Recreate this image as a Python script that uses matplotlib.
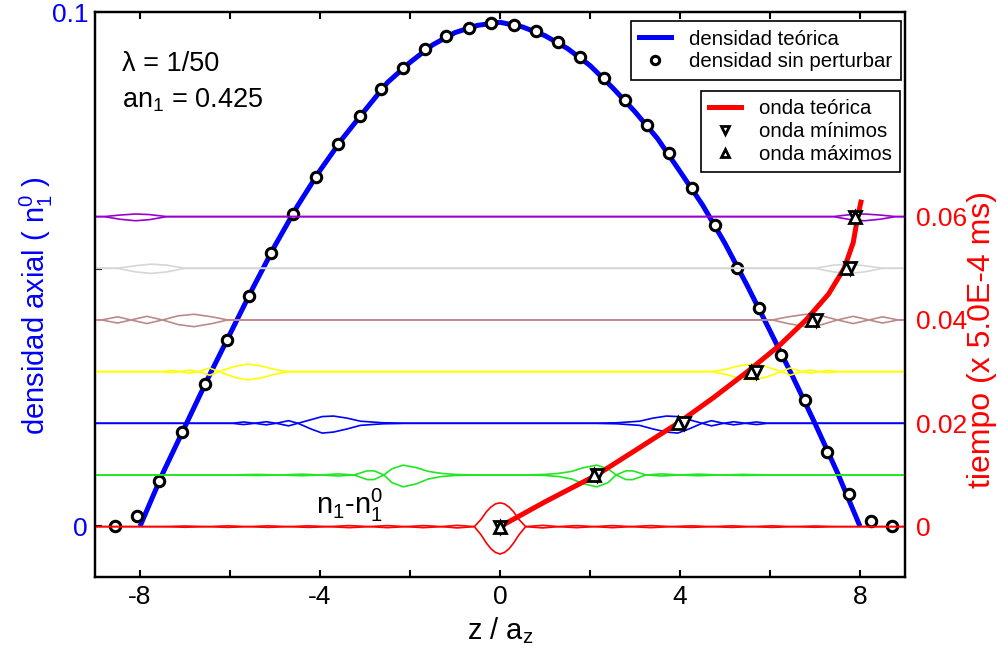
import matplotlib
matplotlib.use('Agg')
import matplotlib.pyplot as plt
import numpy as np
from matplotlib.lines import Line2D
from matplotlib.ticker import FixedLocator

plt.rcParams['font.family'] = ['Liberation Sans', 'DejaVu Sans']
plt.rcParams['mathtext.fontset'] = 'custom'
plt.rcParams['mathtext.rm'] = 'Liberation Sans'
plt.rcParams['mathtext.it'] = 'Liberation Sans'
plt.rcParams['mathtext.bf'] = 'Liberation Sans:bold'

# ---------------- data ----------------
# theoretical density (blue line)
dens_z = [-8, -7.5, -7, -6.5, -6, -5.5, -5, -4.5, -4, -3.5, -3, -2.5, -2, -1.5, -1, -0.5,
          0, 0.5, 1, 1.5, 2, 2.5, 3, 3.5, 4, 4.5, 5, 5.5, 6, 6.5, 7, 7.5, 8]
dens_n = [0, 0.0102, 0.0194, 0.0286, 0.0374, 0.0462, 0.0546, 0.0623, 0.0692, 0.0754, 0.0809,
          0.0863, 0.0902, 0.0936, 0.0960, 0.0974, 0.0980, 0.0971, 0.0954, 0.0929, 0.0896,
          0.0853, 0.0806, 0.0754, 0.0690, 0.0625, 0.0550, 0.0467, 0.0380, 0.0292, 0.0200,
          0.0104, 0]

# unperturbed density (circles)
circ_z = [-8.55, -8.06, -7.57, -7.06, -6.55, -6.06, -5.58, -5.09, -4.60, -4.09, -3.60, -3.11,
          -2.65, -2.16, -1.67, -1.19, -0.70, -0.21, 0.30, 0.79, 1.28, 1.77, 2.30, 2.78, 3.27,
          3.76, 4.27, 4.78, 5.27, 5.76, 6.25, 6.78, 7.26, 7.75, 8.24, 8.72]
circ_n = [0.0, 0.0020, 0.0089, 0.0183, 0.0277, 0.0363, 0.0448, 0.0532, 0.0608, 0.0680, 0.0743,
          0.0797, 0.0850, 0.0891, 0.0928, 0.0953, 0.0969, 0.0979, 0.0975, 0.0963, 0.0942,
          0.0912, 0.0871, 0.0828, 0.0780, 0.0725, 0.0657, 0.0585, 0.0503, 0.0425, 0.0333,
          0.0246, 0.0144, 0.0062, 0.0010, 0.0]

# theoretical wave front (red line)
wave_z = [0, 1.0, 2.15, 3.05, 3.95, 4.75, 5.5, 6.2, 6.8, 7.3, 7.65, 7.85, 7.95, 8.02]
wave_t = [0, 0.0048, 0.0100, 0.0150, 0.0200, 0.0250, 0.0300, 0.0350, 0.0400, 0.0450,
          0.0500, 0.0550, 0.0600, 0.0628]

# wave minima / maxima markers
slice_t = [0.0, 0.01, 0.02, 0.03, 0.04, 0.05, 0.06]
max_z = [0.0, 2.10, 3.95, 5.58, 6.93, 7.70, 7.90]
min_z = [0.0, 2.16, 4.08, 5.70, 7.02, 7.78, 7.90]

# perturbation profiles n1 - n1^0 (units of 1e-3), positive-z side, mirrored to negative z
slice_colors = ['#ff0000', '#22e622', '#0000ff', '#ffff00', '#bc8a8a', '#d6d6d6', '#9900cc']
prof_z = [
    [0, 0.1, 0.2, 0.3, 0.42, 0.57, 0.95, 1.3, 1.7, 2.1, 2.5, 2.9, 3.35, 3.8, 4.25, 4.7, 5.15,
     5.6, 6.05, 6.5, 7.0, 7.5, 8.1, 9.0],
    [0, 0.5, 1.0, 1.3, 1.6, 1.85, 2.15, 2.4, 2.58, 2.8, 2.95, 3.24, 3.6, 4.0, 4.4, 4.9, 5.4,
     6.0, 9.0],
    [0, 1.0, 2.0, 2.6, 3.1, 3.4, 3.7, 3.95, 4.2, 4.49, 4.7, 4.97, 5.2, 5.45, 5.7, 5.95, 6.3, 9.0],
    [0, 3.0, 4.0, 4.7, 5.0, 5.3, 5.6, 5.9, 6.25, 6.45, 6.7, 6.9, 7.1, 7.3, 7.5, 9.0],
    [0, 5.0, 6.05, 6.4, 6.8, 7.15, 7.5, 7.85, 8.2, 8.5, 8.85, 9.0],
    [0, 6.5, 7.0, 7.4, 7.75, 8.1, 8.5, 9.0],
    [0, 7.0, 7.4, 7.8, 8.1, 8.45, 8.8, 9.0],
]
prof_a = [
    [4.6, 4.4, 3.8, 2.9, 1.4, 0, -0.25, 0, 0.2, 0, -0.2, 0, 0.2, 0, -0.15, 0, 0.15, 0, -0.15,
     0, 0.12, 0, 0, 0],
    [0, 0, 0.1, 0.3, 0.7, 1.4, 1.9, 1.2, 0, -0.9, -0.9, 0, 0.2, 0, -0.15, 0, 0.1, 0, 0],
    [0, 0, 0, 0.1, 0.4, 1.0, 1.4, 1.3, 0.7, 0, -0.5, 0, 0.3, 0, -0.25, 0, 0, 0],
    [0, 0, 0, 0, 0.4, 1.1, 1.45, 1.0, 0, -0.7, 0, 0.3, 0, -0.2, 0, 0],
    [0, 0, 0, 0.6, 1.1, 0.8, 0, -0.7, 0, 0.6, 0, 0],
    [0, 0, 0, 0.6, 0.8, 0.5, 0, 0],
    [0, 0, 0, 0.4, 0.5, 0.3, 0, 0],
]
prof_b = [
    [-5.3, -5.0, -4.3, -3.2, -1.6, 0, 0.25, 0, -0.2, 0, 0.2, 0, -0.2, 0, 0.15, 0, -0.15, 0,
     0.15, 0, -0.12, 0, 0, 0],
    [0, 0, -0.1, -0.3, -0.8, -1.7, -2.3, -1.5, 0, 0.8, 0.8, 0, -0.2, 0, 0.15, 0, -0.1, 0, 0],
    [0, 0, 0, -0.1, -0.4, -1.1, -1.7, -1.9, -1.1, 0, 0.5, 0, -0.3, 0, 0.25, 0, 0, 0],
    [0, 0, 0, 0, -0.5, -1.2, -1.6, -1.1, 0, 0.7, 0, -0.3, 0, 0.2, 0, 0],
    [0, 0, 0, -0.7, -1.3, -0.9, 0, 0.7, 0, -0.6, 0, 0],
    [0, 0, 0, -0.7, -1.0, -0.7, 0, 0],
    [0, 0, 0, -0.6, -0.8, -0.5, 0, 0],
]
prof_unit = 1e-3

x_major = [-8, -4, 0, 4, 8]
x_minor = [-6, -2, 2, 6]
yl_ticks = [0, 0.1]
yr_ticks = [0, 0.02, 0.04, 0.06]

# ---------------- figure ----------------
W, H = 997, 652
fig = plt.figure(figsize=(W / 100, H / 100), dpi=100)
ax1 = fig.add_axes([95 / W, 1 - 577 / H, 810 / W, 565 / H])
ax2 = ax1.twinx()

ax1.set_xlim(-9, 9)
ax1.set_ylim(-0.00985, 0.1)
ax2.set_ylim(-0.00975, 0.0996)

# density
ax1.plot(dens_z, dens_n, color='#0000ff', lw=3.6, solid_capstyle='butt', zorder=2)
ax1.plot(circ_z, circ_n, ls='none', marker='o', ms=7.5, mfc='white', mec='black', mew=2.2,
         zorder=3)

# perturbation slices
for t, col, zz, aa, bb in zip(slice_t, slice_colors, prof_z, prof_a, prof_b):
    zz = np.asarray(zz, float)
    full_z = np.concatenate([-zz[::-1], zz[1:]])
    for vals in (aa, bb):
        vv = np.asarray(vals, float)
        full_v = np.concatenate([vv[::-1], vv[1:]])
        ax2.plot(full_z, t + full_v * prof_unit, color=col, lw=1.2, zorder=2)

# theoretical wave
ax2.plot(wave_z, wave_t, color='#ff0000', lw=3.6, zorder=4)
ax2.plot(min_z, slice_t, ls='none', marker='v', ms=8, mfc='white', mec='black', mew=2,
         zorder=5)
ax2.plot(max_z, slice_t, ls='none', marker='^', ms=8, mfc='white', mec='black', mew=2,
         zorder=5)

# ticks
fs_tick = 19
ax1.xaxis.set_major_locator(FixedLocator(x_major))
ax1.xaxis.set_minor_locator(FixedLocator(x_minor))
ax1.set_xticklabels([f'{v:d}' for v in x_major])
ax1.tick_params(axis='x', which='both', direction='in', top=True, length=5, width=1.5,
                labelsize=fs_tick, pad=6)
ax1.yaxis.set_major_locator(FixedLocator(yl_ticks))
ax1.yaxis.set_minor_locator(FixedLocator([0.05]))
ax1.set_yticklabels(['0', '0.1'])
ax1.tick_params(axis='y', which='both', direction='in', length=5, width=1.5,
                labelsize=fs_tick, labelcolor='#0000ff', pad=5)
ax2.yaxis.set_major_locator(FixedLocator(yr_ticks))
ax2.set_yticklabels(['0', '0.02', '0.04', '0.06'])
ax2.tick_params(axis='y', which='major', length=0, labelsize=fs_tick, labelcolor='#ff0000',
                pad=8)
for ax in (ax1, ax2):
    for s in ax.spines.values():
        s.set_linewidth(1.6)

ax1.set_xlabel('z / a$_z$', fontsize=21)
ax1.xaxis.set_label_coords(0.5, -0.068)
ax1.set_ylabel('densidad axial ( n$_1^0$ )', fontsize=21, color='#0000ff')
ax1.yaxis.set_label_coords(-0.0494, 0.48)
ax2.set_ylabel('tiempo (x 5.0E-4 ms)', fontsize=23, color='#ff0000', rotation=90)
ax2.yaxis.set_label_coords(1.077, 0.42)

# annotations
ax1.text(-8.4, 0.0898, 'λ = 1/50', fontsize=19.5, va='center', ha='left')
ax1.text(-8.4, 0.0828, 'an$_1$ = 0.425', fontsize=19.5, va='center', ha='left')
ax1.text(-3.35, 0.0040, 'n$_1$-n$_1^0$', fontsize=21, va='center', ha='center')

# legends
h1 = [Line2D([], [], color='#0000ff', lw=3.6),
      Line2D([], [], ls='none', marker='o', ms=6, mfc='white', mec='black', mew=2.2)]
leg1 = ax2.legend(h1, ['densidad teórica', 'densidad sin perturbar'], loc='upper right',
                  bbox_to_anchor=(0.995, 0.984), fontsize=14.7, frameon=True, fancybox=False,
                  edgecolor='black', framealpha=1, borderpad=0.42, labelspacing=0.19,
                  handlelength=1.57, handletextpad=0.88, borderaxespad=0)
leg1.get_frame().set_linewidth(1.2)
ax2.add_artist(leg1)
h2 = [Line2D([], [], color='#ff0000', lw=3.6),
      Line2D([], [], ls='none', marker='v', ms=6, mfc='white', mec='black', mew=2),
      Line2D([], [], ls='none', marker='^', ms=6, mfc='white', mec='black', mew=2)]
leg2 = ax2.legend(h2, ['onda teórica', 'onda mínimos', 'onda máximos'], loc='upper right',
                  bbox_to_anchor=(0.994, 0.86), fontsize=14.7, frameon=True, fancybox=False,
                  edgecolor='black', framealpha=1, borderpad=0.4, labelspacing=0.19,
                  handlelength=1.57, handletextpad=0.88, borderaxespad=0)
leg2.get_frame().set_linewidth(1.2)

fig.savefig('out.png', dpi=100)
